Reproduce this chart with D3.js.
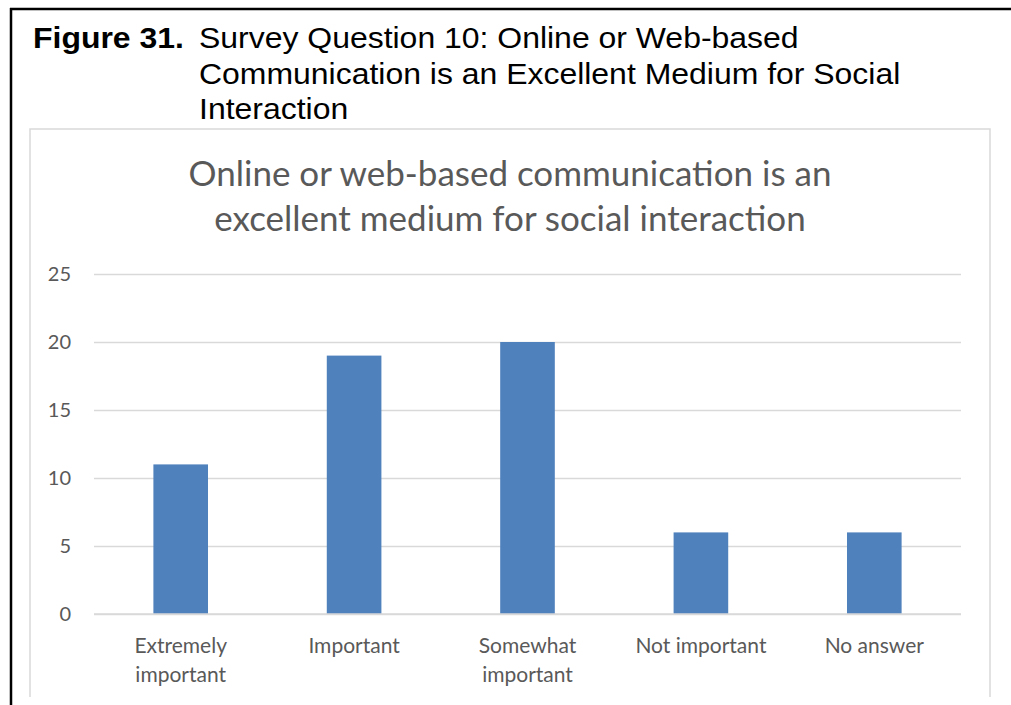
<!DOCTYPE html>
<html>
<head>
<meta charset="utf-8">
<script src="https://cdn.jsdelivr.net/npm/d3@7/dist/d3.min.js"></script>
<style>
  html, body { margin: 0; padding: 0; background: #fff; }
  svg { display: block; }
</style>
</head>
<body>
<svg id="chart" width="1011" height="705"></svg>
<script>
// Survey responses, question 10
const categories = [["Extremely", "important"], ["Important"], ["Somewhat", "important"], ["Not important"], ["No answer"]];
const counts = [11, 19, 20, 6, 6];
const yTicks = [0, 5, 10, 15, 20, 25];

const captionLabel = "Figure 31.";
const captionLines = [
  "Survey Question 10: Online or Web-based",
  "Communication is an Excellent Medium for Social",
  "Interaction"
];
const titleLines = [
  "Online or web-based communication is an",
  "excellent medium for social interaction"
];

const W = 1011, H = 705;
const svg = d3.select("#chart");
const textGrey = "#595959";
const gridGrey = "#d9d9d9";
const barBlue = "#4f81bd";
const bodyFont = "Lato, 'Open Sans', sans-serif";

// Outer document frame (top and left rules)
svg.append("line").attr("x1", 10).attr("x2", W).attr("y1", 9).attr("y2", 9)
  .attr("stroke", "#000").attr("stroke-width", 2.5);
svg.append("line").attr("x1", 11).attr("x2", 11).attr("y1", 8).attr("y2", H)
  .attr("stroke", "#000").attr("stroke-width", 2.5);

// Caption (slightly widened type)
const capStretch = 1.065;
const cap = svg.append("g").attr("font-family", "'Liberation Sans', Arial, sans-serif").attr("fill", "#000")
  .attr("font-size", 30);
cap.append("text").attr("transform", `translate(33,48) scale(${capStretch},1)`).attr("font-weight", "bold")
  .text(captionLabel);
cap.selectAll("text.cl").data(captionLines).join("text").attr("class", "cl")
  .attr("transform", (d, i) => `translate(199,${48 + i * 35.5}) scale(${capStretch},1)`)
  .text(d => d);

// Chart area frame
svg.append("path")
  .attr("d", "M30,697 V129 H990 V697")
  .attr("fill", "none").attr("stroke", gridGrey).attr("stroke-width", 1.5);

// Chart title
svg.append("g").attr("font-family", bodyFont).attr("fill", textGrey).attr("font-size", 35)
  .attr("text-anchor", "middle")
  .selectAll("text").data(titleLines).join("text")
  .attr("x", 510).attr("y", (d, i) => 186 + i * 45).text(d => d);

// Scales
const x = d3.scaleBand().domain(d3.range(categories.length)).range([94, 961]).paddingInner(0.685).paddingOuter(0.3425);
const y = d3.scaleLinear().domain([0, 25]).range([614, 274]);

// Gridlines and value labels
const yAxis = d3.axisLeft(y).tickValues(yTicks).tickSize(-(961 - 94)).tickPadding(23).tickFormat(d3.format("d"));
const gy = svg.append("g").attr("transform", "translate(94,0)").call(yAxis);
gy.select(".domain").remove();
gy.selectAll(".tick line").attr("stroke", gridGrey).attr("stroke-width", 1.5);
gy.selectAll(".tick text").attr("fill", textGrey).attr("font-size", 20).attr("font-family", bodyFont);

// Bars
svg.append("g").selectAll("rect").data(counts).join("rect")
  .attr("x", (d, i) => x(i)).attr("width", x.bandwidth())
  .attr("y", d => y(d)).attr("height", d => y(0) - y(d))
  .attr("fill", barBlue);

// Baseline on top of bars
svg.append("line").attr("x1", 94).attr("x2", 961).attr("y1", y(0)).attr("y2", y(0))
  .attr("stroke", gridGrey).attr("stroke-width", 1.5);

// Category labels
const gx = svg.append("g").attr("font-family", bodyFont).attr("font-size", 21).attr("fill", textGrey)
  .attr("text-anchor", "middle");
categories.forEach((lines, i) => {
  const t = gx.append("text").attr("x", x(i) + x.bandwidth() / 2).attr("y", 652.5);
  lines.forEach((s, j) => t.append("tspan").attr("x", x(i) + x.bandwidth() / 2).attr("dy", j === 0 ? 0 : 29.5).text(s));
});
</script>
</body>
</html>
